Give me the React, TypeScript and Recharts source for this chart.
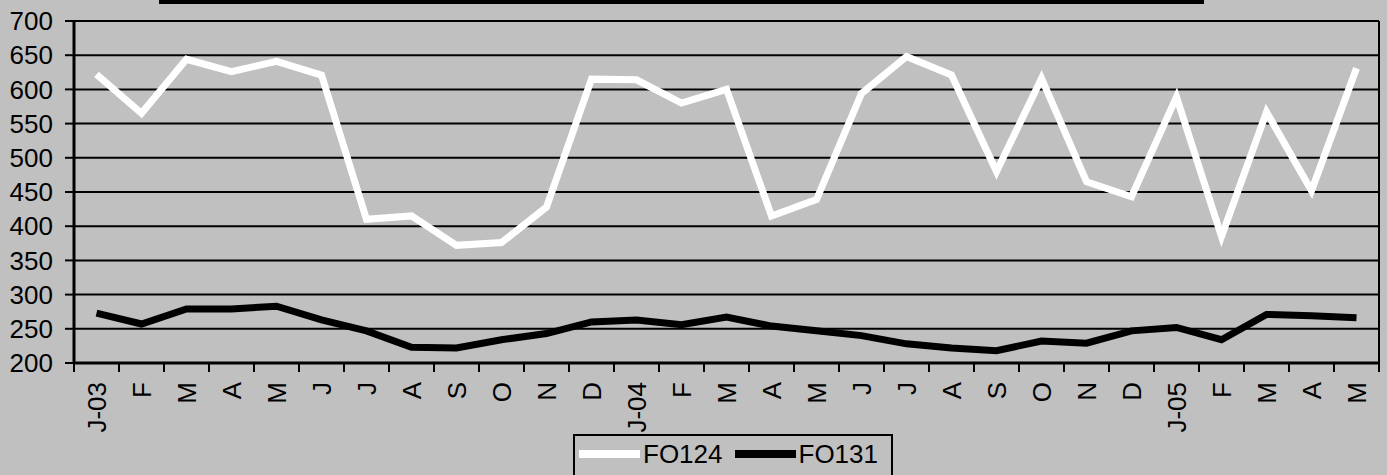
import { LineChart, Line, XAxis, YAxis, CartesianGrid, Legend } from 'recharts'

const months = [
  'J-03', 'F', 'M', 'A', 'M', 'J', 'J', 'A', 'S', 'O', 'N', 'D',
  'J-04', 'F', 'M', 'A', 'M', 'J', 'J', 'A', 'S', 'O', 'N', 'D',
  'J-05', 'F', 'M', 'A', 'M',
]

const fo124 = [
  622, 565, 644, 626, 641, 621, 410, 415, 372, 376, 428, 615,
  614, 580, 600, 415, 439, 594, 648, 621, 480, 616, 465, 443,
  589, 385, 567, 452, 631,
]

const fo131 = [
  273, 257, 279, 279, 283, 263, 247, 223, 222, 234, 243, 260,
  263, 256, 267, 254, 247, 240, 228, 222, 218, 232, 229, 247,
  252, 234, 271, 269, 266,
]

const yTicks = [200, 250, 300, 350, 400, 450, 500, 550, 600, 650, 700]

const data = months.map((label, i) => ({
  m: i,
  label,
  FO124: fo124[i],
  FO131: fo131[i],
}))

const FONT = '"Liberation Sans", Arial, sans-serif'
const TICK_SIZE = 9
const TICK_MARGIN = 10

function MonthTick(props: any) {
  const { x, y, payload, index } = props
  const half = payload.offset ?? 0
  const axisY = y - TICK_SIZE - TICK_MARGIN
  return (
    <g>
      <line x1={x - half} x2={x - half} y1={axisY} y2={axisY + TICK_SIZE} stroke="#000" strokeWidth={2} />
      {index === months.length - 1 && (
        <line x1={x + half} x2={x + half} y1={axisY} y2={axisY + TICK_SIZE} stroke="#000" strokeWidth={2} />
      )}
      <text
        x={x}
        y={y}
        dy="0.35em"
        textAnchor="end"
        transform={`rotate(-90, ${x}, ${y})`}
        fill="#000"
        fontSize={26}
        fontFamily={FONT}
      >
        {months[payload.value]}
      </text>
    </g>
  )
}

function LegendBox(props: any) {
  const { payload } = props
  return (
    <div
      style={{
        boxSizing: 'border-box',
        width: 320,
        height: 60,
        border: '2px solid #000',
        fontFamily: FONT,
        fontSize: 26,
        color: '#000',
      }}
    >
      <div style={{ display: 'flex', alignItems: 'center', height: 36, paddingLeft: 4 }}>
        {(payload || []).map((p: any) => (
          <div key={p.value} style={{ display: 'flex', alignItems: 'center' }}>
            <div style={{ width: 61, height: 8, background: p.color, marginRight: 3 }} />
            <span style={{ marginRight: 12, lineHeight: 1 }}>{p.value}</span>
          </div>
        ))}
      </div>
    </div>
  )
}

export default function App() {
  return (
    <div style={{ position: 'absolute', left: 0, top: 0, width: 1387, height: 475, background: '#c0c0c0', overflow: 'hidden' }}>
      <div style={{ position: 'absolute', left: 159, top: 0, width: 1045, height: 4, background: '#000' }} />
      <LineChart width={1387} height={475} data={data} margin={{ top: 21, right: 8, bottom: 0, left: 0 }}>
        <CartesianGrid
          stroke="#000"
          strokeWidth={2}
          verticalCoordinatesGenerator={({ offset }: any) => [offset.left + offset.width]}
        />
        <XAxis
          dataKey="m"
          type="category"
          scale="band"
          interval={0}
          height={112}
          tickLine={false}
          tickSize={TICK_SIZE}
          tickMargin={TICK_MARGIN}
          axisLine={{ stroke: '#000', strokeWidth: 3 }}
          tick={<MonthTick />}
        />
        <YAxis
          domain={[200, 700]}
          ticks={yTicks}
          interval={0}
          width={74}
          tickSize={9}
          tickMargin={12}
          axisLine={{ stroke: '#000', strokeWidth: 3 }}
          tickLine={{ stroke: '#000', strokeWidth: 2 }}
          tick={{ fill: '#000', fontSize: 26, fontFamily: FONT }}
        />
        <Legend
          layout="horizontal"
          verticalAlign="middle"
          align="center"
          content={<LegendBox />}
          wrapperStyle={{ left: 573, top: 434, width: 320, height: 60 }}
        />
        <Line
          type="linear"
          dataKey="FO124"
          stroke="#ffffff"
          strokeWidth={7}
          strokeLinejoin="miter"
          dot={false}
          activeDot={false}
          isAnimationActive={false}
        />
        <Line
          type="linear"
          dataKey="FO131"
          stroke="#000000"
          strokeWidth={7}
          strokeLinejoin="miter"
          dot={false}
          activeDot={false}
          isAnimationActive={false}
        />
      </LineChart>
    </div>
  )
}
